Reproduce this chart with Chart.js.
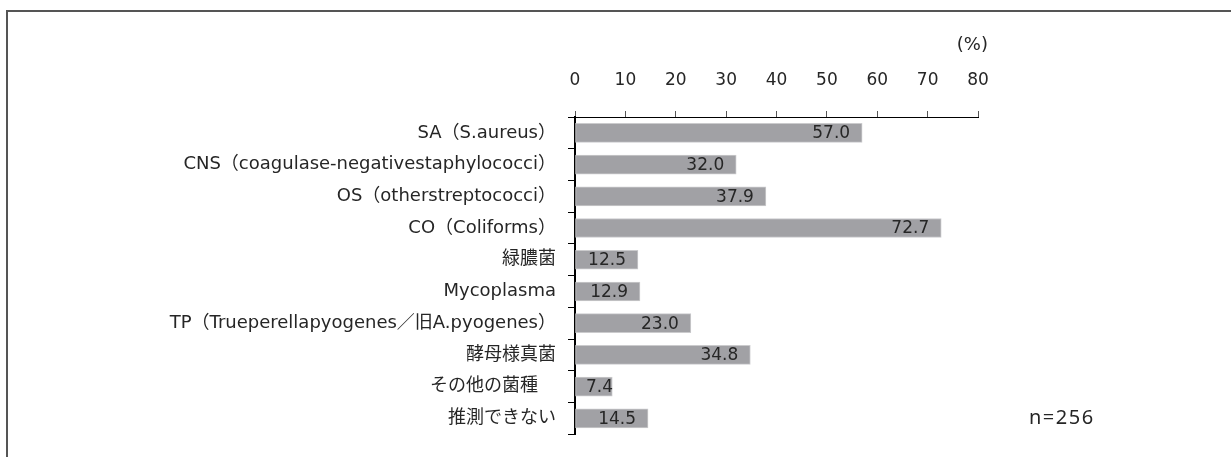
<!DOCTYPE html>
<html><head><meta charset="utf-8">
<script src="https://cdn.jsdelivr.net/npm/chart.js@4.4.1/dist/chart.umd.min.js"></script>
<style>html,body{margin:0;padding:0;background:#fff;overflow:hidden}#wrap{width:1231px;height:457px}</style>
</head><body><div id="wrap"><canvas id="c" width="1231" height="457"></canvas></div>
<script>
const categories = ['SA（S.aureus）', 'CNS（coagulase-negativestaphylococci）', 'OS（otherstreptococci）', 'CO（Coliforms）', '緑膿菌', 'Mycoplasma', 'TP（Trueperellapyogenes／旧A.pyogenes）', '酵母様真菌', 'その他の菌種　', '推測できない'];
const values = [57.0, 32.0, 37.9, 72.7, 12.5, 12.9, 23.0, 34.8, 7.4, 14.5];
const axisMin = 0, axisMax = 80, axisStep = 10;
const unitLabel = '(%)';
const sampleNote = 'n=256';

const LAT = "'DejaVu Sans','Noto Sans CJK JP',sans-serif";
const CAT = "'DejaVu Sans','Noto Sans CJK JP',sans-serif";
const TXT = '#262626';

const extras = {
  id: 'extras',
  beforeDraw(chart) {
    const ctx = chart.ctx;
    ctx.save();
    ctx.fillStyle = '#fff';
    ctx.fillRect(0, 0, chart.width, chart.height);
    ctx.strokeStyle = '#555';
    ctx.lineWidth = 2;
    ctx.beginPath();
    ctx.moveTo(7, chart.height);
    ctx.lineTo(7, 11);
    ctx.lineTo(chart.width, 11);
    ctx.stroke();
    ctx.restore();
  },
  afterDatasetsDraw(chart) {
    const ctx = chart.ctx;
    const meta = chart.getDatasetMeta(0);
    const xs = chart.scales.x;
    const base = xs.getPixelForValue(0);
    ctx.save();
    ctx.font = '17px ' + LAT;
    ctx.fillStyle = TXT;
    ctx.textBaseline = 'middle';
    ctx.textAlign = 'right';
    meta.data.forEach((bar, i) => {
      const txt = values[i].toFixed(1);
      const w = ctx.measureText(txt).width;
      const right = Math.max(bar.x - 12, base + 11 + w);
      ctx.fillText(txt, right, bar.y + 1);
    });
    const ca = chart.chartArea;
    ctx.font = '18px ' + LAT;
    ctx.textAlign = 'right';
    ctx.fillText(unitLabel, ca.right + 10, 45);
    ctx.font = '20px "Noto Sans",sans-serif';
    ctx.letterSpacing = '1.5px';
    ctx.textAlign = 'left';
    const last = meta.data[meta.data.length - 1];
    ctx.fillText(sampleNote, ca.right + 51, last.y);
    ctx.restore();
  }
};

new Chart(document.getElementById('c'), {
  type: 'bar',
  data: {
    labels: categories,
    datasets: [{
      data: values,
      backgroundColor: '#a1a1a5',
      borderColor: '#cbcbcd',
      borderWidth: 1,
      borderSkipped: false,
      barThickness: 19,
      categoryPercentage: 1,
      barPercentage: 0.6
    }]
  },
  options: {
    indexAxis: 'y',
    responsive: false,
    animation: false,
    devicePixelRatio: 1,
    layout: { padding: { left: 0, right: 253, top: 0, bottom: 20 } },
    plugins: { legend: { display: false }, tooltip: { enabled: false } },
    scales: {
      x: {
        position: 'top',
        min: axisMin, max: axisMax,
        ticks: { stepSize: axisStep, font: { family: LAT, size: 17 }, color: TXT, padding: 20 },
        grid: { drawOnChartArea: false, drawTicks: true, tickLength: 6, color: '#555' },
        border: { display: true, color: '#000', width: 1 },
        afterFit(s) { s.height = 117; }
      },
      y: {
        ticks: { font: { family: CAT, size: 18 }, color: TXT, padding: 12, autoSkip: false },
        grid: { drawOnChartArea: false, drawTicks: true, tickLength: 7, color: '#000', offset: true },
        border: { display: true, color: '#000', width: 2 },
        afterFit(s) { s.width = 575; }
      }
    }
  },
  plugins: [extras]
});
</script>
</body></html>
